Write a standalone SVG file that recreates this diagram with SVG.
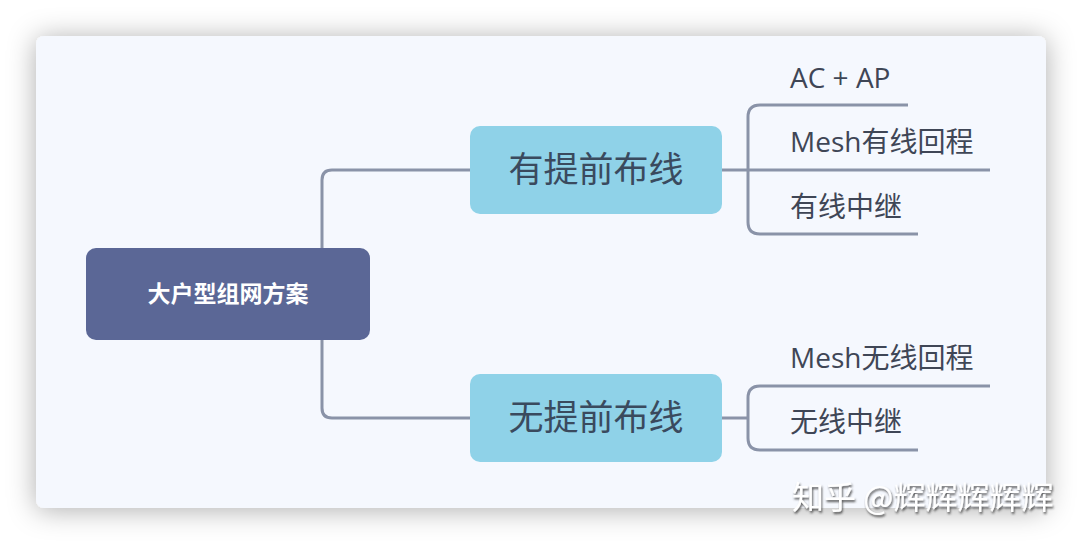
<svg xmlns="http://www.w3.org/2000/svg" width="1082" height="544" viewBox="0 0 1082 544">
<defs>
<filter id="sh" x="-10%" y="-15%" width="120%" height="130%">
<feDropShadow dx="0" dy="2" stdDeviation="14" flood-color="#000" flood-opacity="0.32"/>
</filter>
<filter id="wm" x="-5%" y="-20%" width="110%" height="140%">
<feDropShadow dx="1" dy="2" stdDeviation="1" flood-color="#333" flood-opacity="0.8"/>
</filter>
<style>
.ln{fill:none;stroke:#8a93a8;stroke-width:3;stroke-linecap:butt}
.lbl{font-family:"Open Sans","Noto Sans CJK SC",sans-serif;font-size:28px;fill:#3f4656}
.mid{font-family:"Noto Sans CJK SC",sans-serif;font-size:35px;fill:#3a4a5e;text-anchor:middle}
</style>
</defs>
<rect width="1082" height="544" fill="#ffffff"/>
<rect id="card" x="36" y="36" width="1010" height="472" rx="8" fill="#f5f8fe" filter="url(#sh)"/>
<g id="connectors">
<path class="ln" d="M470 170 H332 Q322 170 322 180 V248"/>
<path class="ln" d="M322 340 V408 Q322 418 332 418 H470"/>
<path class="ln" d="M722 170 H990"/>
<path class="ln" d="M908 105 H760 Q748 105 748 117 V222 Q748 234 760 234 H918"/>
<path class="ln" d="M722 418 H748"/>
<path class="ln" d="M990 386 H760 Q748 386 748 398 V438 Q748 450 760 450 H918"/>
</g>
<g id="root">
<rect x="86" y="248" width="284" height="92" rx="10" fill="#5b6796"/>
<text x="228" y="302" text-anchor="middle" font-family="Noto Sans CJK SC,sans-serif" font-size="23" font-weight="bold" fill="#ffffff">大户型组网方案</text>
</g>
<g id="n1">
<rect x="470" y="126" width="252" height="88" rx="10" fill="#8fd2e8"/>
<text class="mid" x="596" y="182">有提前布线</text>
</g>
<g id="n2">
<rect x="470" y="374" width="252" height="88" rx="10" fill="#8fd2e8"/>
<text class="mid" x="596" y="430">无提前布线</text>
</g>
<g id="l1"><text class="lbl" x="790" y="88">AC + AP</text></g>
<g id="l2"><text class="lbl" x="790" y="152">Mesh有线回程</text></g>
<g id="l3"><text class="lbl" x="790" y="217">有线中继</text></g>
<g id="l4"><text class="lbl" x="790" y="368">Mesh无线回程</text></g>
<g id="l5"><text class="lbl" x="790" y="432">无线中继</text></g>
<text x="792" y="509" font-family="Noto Sans CJK SC,sans-serif" font-size="32" fill="#ffffff" filter="url(#wm)">知乎 @辉辉辉辉辉</text>
</svg>
